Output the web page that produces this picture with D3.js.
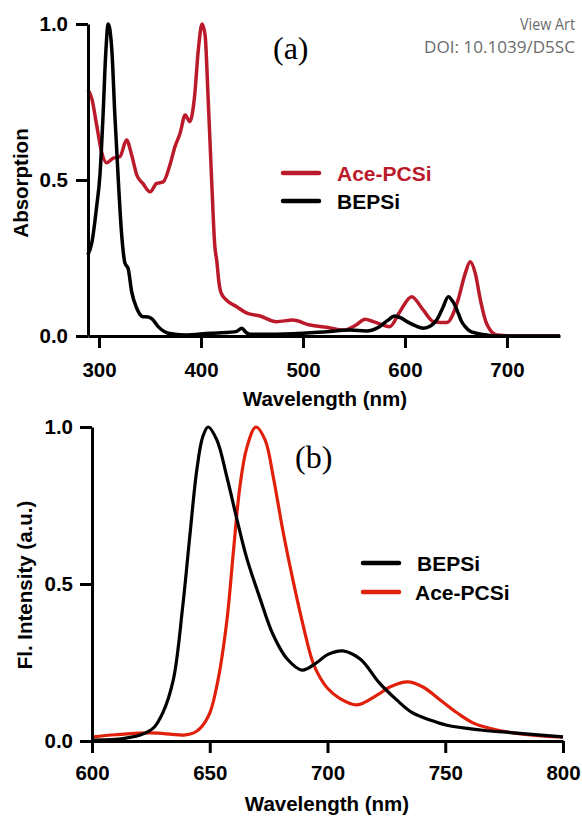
<!DOCTYPE html>
<html>
<head>
<meta charset="utf-8">
<script src="https://cdn.jsdelivr.net/npm/d3@7"></script>
<style>
  body { margin: 0; background: #fff; }
  svg { display: block; }
</style>
</head>
<body>
<svg id="chart" width="582" height="816"></svg>
<script>
// ---------- DATA ----------
// Panel (a): absorption
const absWlAce = [289, 293, 297.5, 302.5, 307.5, 314, 320.5, 327, 332, 337, 343, 350, 356.5, 363, 369.5, 374.5, 379.5, 384.5, 389, 393.5, 397.5, 401, 404, 407, 410.5, 413.5, 415.5, 417.5, 419.5, 425, 435, 445, 458, 474, 490, 507, 523, 540, 552, 561, 569, 585, 595, 606.5, 618, 628, 641, 652, 659, 664, 669, 674, 680, 690, 706, 752];
const absAce   = [0.79, 0.76, 0.68, 0.59, 0.555, 0.57, 0.575, 0.628, 0.58, 0.516, 0.489, 0.462, 0.489, 0.494, 0.548, 0.607, 0.65, 0.708, 0.687, 0.762, 0.922, 1.0, 0.965, 0.762, 0.495, 0.29, 0.24, 0.175, 0.14, 0.115, 0.094, 0.073, 0.064, 0.046, 0.051, 0.035, 0.028, 0.019, 0.035, 0.054, 0.046, 0.03, 0.078, 0.126, 0.083, 0.046, 0.043, 0.115, 0.2, 0.238, 0.2, 0.115, 0.04, 0.003, 0.0, 0.0];

const absWlBEP = [289, 293, 297.5, 301, 304, 306.5, 309, 312.5, 315.5, 319, 322, 325.5, 328.5, 332, 337, 343, 348, 352, 358, 368, 384, 409, 428, 435, 440, 444, 448, 474, 523, 546, 562, 575, 583, 590, 596, 602, 610, 618, 625, 631, 637, 642.5, 647, 651, 655, 659, 664, 670, 680, 690, 752];
const absBEP   = [0.26, 0.30, 0.41, 0.52, 0.71, 0.90, 1.0, 0.92, 0.71, 0.495, 0.334, 0.233, 0.217, 0.142, 0.089, 0.062, 0.061, 0.055, 0.03, 0.009, 0.003, 0.009, 0.012, 0.015, 0.025, 0.012, 0.006, 0.006, 0.014, 0.019, 0.016, 0.03, 0.05, 0.064, 0.058, 0.046, 0.033, 0.025, 0.032, 0.051, 0.09, 0.126, 0.11, 0.083, 0.05, 0.03, 0.015, 0.009, 0.003, 0.0, 0.0];

// Panel (b): fluorescence
const flWlBEP = [600, 610, 615, 620.5, 626, 630, 634.5, 638.5, 641.5, 644.5, 647, 649.3, 653, 657.3, 661.6, 665.8, 671.3, 676.8, 682.8, 689.2, 695.5, 700, 706.5, 714, 722, 729.5, 736, 743.5, 750.7, 765, 779, 800];
const flBEP   = [0.003, 0.005, 0.01, 0.019, 0.041, 0.089, 0.194, 0.427, 0.65, 0.863, 0.968, 1.0, 0.959, 0.84, 0.704, 0.58, 0.455, 0.34, 0.262, 0.226, 0.25, 0.275, 0.287, 0.26, 0.185, 0.13, 0.09, 0.067, 0.05, 0.035, 0.026, 0.013];

const flWlAce = [600, 610, 620, 628, 634, 639, 643, 646, 650, 653.5, 657.3, 660, 662.8, 665.8, 669.6, 673.5, 677, 681, 685.4, 689.6, 693.8, 697, 700, 705.3, 712.5, 721, 726.5, 734, 740.5, 748, 755, 762, 772, 786, 800];
const flAce   = [0.013, 0.02, 0.025, 0.025, 0.021, 0.019, 0.025, 0.041, 0.089, 0.194, 0.385, 0.6, 0.81, 0.936, 1.0, 0.959, 0.84, 0.672, 0.51, 0.37, 0.25, 0.2, 0.168, 0.135, 0.115, 0.146, 0.172, 0.188, 0.172, 0.13, 0.09, 0.057, 0.035, 0.019, 0.012];

const xTicksA = [300, 400, 500, 600, 700];
const xTicksB = [600, 650, 700, 750, 800];
const yTicks  = [0, 0.5, 1.0];

const labelsA = { x: "Wavelength (nm)", y: "Absorption", panel: "(a)" };
const labelsB = { x: "Wavelength (nm)", y: "Fl. Intensity (a.u.)", panel: "(b)" };
const legendA = ["Ace-PCSi", "BEPSi"];
const legendB = ["BEPSi", "Ace-PCSi"];
const headerTexts = ["View Art", "DOI: 10.1039/D5SC"];

// ---------- DRAW ----------
const svg = d3.select("#chart");
const FONT = "'Liberation Sans', Arial, Helvetica, sans-serif";
const RED_A = "#bb1a2a";
const RED_B = "#e0200b";

function styleAxis(g, size) {
  g.select(".domain").attr("stroke", "#000").attr("stroke-width", 3);
  g.selectAll(".tick line").attr("stroke", "#000").attr("stroke-width", 3);
  g.selectAll(".tick text")
    .attr("fill", "#000")
    .style("font-family", FONT)
    .style("font-weight", "bold")
    .style("font-size", size + "px");
}

function panel(cfg) {
  const x = d3.scaleLinear().domain(cfg.xDomain).range(cfg.xRange);
  const y = d3.scaleLinear().domain([0, 1]).range(cfg.yRange);
  const g = svg.append("g");

  // lines
  const line = d3.line().x(d => x(d[0])).y(d => y(d[1])).curve(cfg.curve);
  cfg.series.forEach(s => {
    g.append("path")
      .datum(d3.zip(s.wl, s.val))
      .attr("d", line)
      .attr("fill", "none")
      .attr("stroke", s.color)
      .attr("stroke-width", s.width)
      .attr("stroke-linejoin", "round");
  });

  // axes
  const ax = g.append("g").attr("transform", `translate(0,${cfg.yRange[0]})`)
    .call(d3.axisBottom(x).tickValues(cfg.xTicks).tickFormat(d3.format("d"))
      .tickSize(12).tickSizeOuter(0).tickPadding(cfg.xPad));
  styleAxis(ax, 20.5);
  const ay = g.append("g").attr("transform", `translate(${cfg.xRange[0]},0)`)
    .call(d3.axisLeft(y).tickValues(yTicks).tickFormat(d3.format(".1f"))
      .tickSize(12).tickSizeOuter(0).tickPadding(cfg.yPad));
  styleAxis(ay, 20.5);

  // axis titles
  g.append("text")
    .attr("x", cfg.xTitle[0]).attr("y", cfg.xTitle[1])
    .attr("text-anchor", "middle")
    .style("font-family", FONT).style("font-weight", "bold").style("font-size", "20.5px")
    .text(cfg.labels.x);
  g.append("text")
    .attr("transform", `translate(${cfg.yTitle[0]},${cfg.yTitle[1]}) rotate(-90)`)
    .attr("text-anchor", "middle")
    .style("font-family", FONT).style("font-weight", "bold").style("font-size", "20.5px")
    .text(cfg.labels.y);

  // panel label
  g.append("text")
    .attr("x", cfg.panelPos[0]).attr("y", cfg.panelPos[1])
    .style("font-family", "'Liberation Serif', 'Times New Roman', serif")
    .style("font-size", "32px")
    .text(cfg.labels.panel);

  // legend
  cfg.legend.forEach((L, i) => {
    const ly = cfg.legendPos[1] + i * cfg.legendGap;
    g.append("line")
      .attr("x1", cfg.legendPos[0]).attr("x2", cfg.legendPos[0] + 36)
      .attr("y1", ly).attr("y2", ly)
      .attr("stroke", L.color).attr("stroke-width", 4.5).attr("stroke-linecap", "round");
    g.append("text")
      .attr("x", cfg.legendPos[0] + cfg.legendTextDx + (L.dx || 0)).attr("y", ly + 7.5)
      .attr("fill", L.textColor)
      .style("font-family", FONT).style("font-weight", "bold").style("font-size", "21px")
      .text(L.name);
  });
}

panel({
  xDomain: [289.2, 752], xRange: [88, 560], yRange: [336, 24],
  xTicks: xTicksA, xPad: 14, yPad: 8,
  curve: d3.curveMonotoneX,
  series: [
    { wl: absWlAce, val: absAce, color: RED_A, width: 3.5 },
    { wl: absWlBEP, val: absBEP, color: "#000", width: 3.5 }
  ],
  labels: labelsA,
  xTitle: [325, 406], yTitle: [28, 183],
  panelPos: [273, 59],
  legend: [
    { name: legendA[0], color: RED_A, textColor: RED_A },
    { name: legendA[1], color: "#000", textColor: "#000" }
  ],
  legendPos: [283, 173], legendGap: 28, legendTextDx: 54
});

panel({
  xDomain: [600, 800], xRange: [92, 563], yRange: [741, 427],
  xTicks: xTicksB, xPad: 12, yPad: 7,
  curve: d3.curveCatmullRom.alpha(0.5),
  series: [
    { wl: flWlAce, val: flAce, color: RED_B, width: 3.2 },
    { wl: flWlBEP, val: flBEP, color: "#000", width: 3.2 }
  ],
  labels: labelsB,
  xTitle: [327, 811], yTitle: [32, 585],
  panelPos: [295, 468],
  legend: [
    { name: legendB[0], color: "#000", textColor: "#000", dx: 2 },
    { name: legendB[1], color: RED_B, textColor: "#000" }
  ],
  legendPos: [363, 563], legendGap: 29, legendTextDx: 52
});

// header text at top right
svg.append("text").attr("x", 520).attr("y", 30)
  .attr("fill", "#6b6b6b")
  .attr("textLength", 55).attr("lengthAdjust", "spacingAndGlyphs")
  .style("font-family", "'Open Sans', 'DejaVu Sans', sans-serif").style("font-size", "16px")
  .text(headerTexts[0]);
svg.append("text").attr("x", 424).attr("y", 53)
  .attr("fill", "#6b6b6b")
  .attr("textLength", 151).attr("lengthAdjust", "spacingAndGlyphs")
  .style("font-family", "'Open Sans', 'DejaVu Sans', sans-serif").style("font-size", "17px")
  .text(headerTexts[1]);
</script>
</body>
</html>
